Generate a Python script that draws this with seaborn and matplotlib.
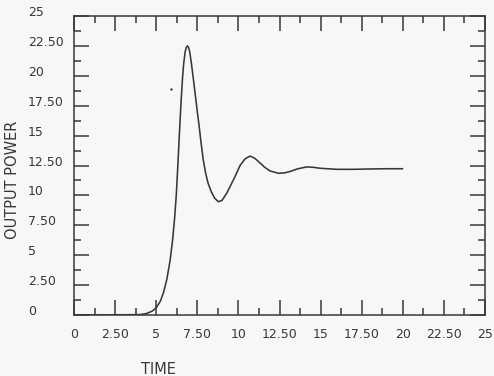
import numpy as np
import pandas as pd
import matplotlib
matplotlib.use("Agg")
import matplotlib.pyplot as plt
import seaborn as sns

# ---- data ----
time = [0.0, 4.00, 4.40, 4.75, 5.00, 5.25, 5.45, 5.65, 5.85, 6.00, 6.12, 6.22, 6.32,
        6.42, 6.52, 6.60, 6.67, 6.76, 6.83, 6.90, 6.97, 7.04, 7.14, 7.30, 7.40, 7.50,
        7.62, 7.72, 7.86, 8.00, 8.15, 8.35, 8.55, 8.78, 9.00, 9.29, 9.55, 9.79, 10.10,
        10.40, 10.71, 11.00, 11.31, 11.60, 11.92, 12.43, 12.80, 13.14, 13.60, 14.15,
        14.55, 14.96, 15.98, 16.99, 18.00, 19.02, 19.99]
power = [0.0, 0.03, 0.12, 0.32, 0.60, 1.15, 1.90, 3.00, 4.60, 6.30, 8.10, 10.00, 12.60,
         15.40, 18.00, 19.80, 21.00, 22.00, 22.38, 22.50, 22.38, 22.00, 21.05, 19.30, 18.15,
         17.00, 15.70, 14.50, 13.00, 11.90, 11.05, 10.30, 9.78, 9.47, 9.58, 10.18, 10.90,
         11.56, 12.50, 13.05, 13.29, 13.10, 12.72, 12.35, 12.05, 11.85, 11.88, 12.00, 12.22,
         12.38, 12.35, 12.27, 12.18, 12.18, 12.21, 12.23, 12.23]
stray_time = [5.90]
stray_power = [18.87]

major_ticks = [0, 2.5, 5, 7.5, 10, 12.5, 15, 17.5, 20, 22.5, 25]
tick_labels = ["0", "2.50", "5", "7.50", "10", "12.50", "15", "17.50", "20", "22.50", "25"]
minor_ticks = [1.25, 3.75, 6.25, 8.75, 11.25, 13.75, 16.25, 18.75, 21.25, 23.75]

x_label = "TIME"
y_label = "OUTPUT POWER"

# ---- style ----
bg = "#f7f7f7"
ink = "#383838"
sns.set_style("white")
plt.rcParams["font.family"] = ["DejaVu Sans"]

fig = plt.figure(figsize=(4.94, 3.76), dpi=100, facecolor=bg)
ax = fig.add_axes([74/494, 1-315/376, 411/494, 299/376])
ax.set_facecolor(bg)

df = pd.DataFrame({"time": time, "power": power})
sns.lineplot(data=df, x="time", y="power", ax=ax, color=ink, linewidth=1.15, sort=False)
sns.scatterplot(x=stray_time, y=stray_power, ax=ax, color=ink, s=3, linewidth=0)

ax.set_xlim(0, 25)
ax.set_ylim(0, 25)
ax.set_xticks(major_ticks)
ax.set_xticklabels(tick_labels)
ax.set_yticks(major_ticks)
ax.set_yticklabels(tick_labels)
ax.set_xticks(minor_ticks, minor=True)
ax.set_yticks(minor_ticks, minor=True)

for s in ax.spines.values():
    s.set_visible(True)
    s.set_color(ink)
    s.set_linewidth(1.1)

ax.tick_params(which="both", direction="in", top=True, right=True,
               bottom=True, left=True, color=ink, width=1.1,
               labeltop=False, labelright=False)
ax.tick_params(which="major", length=10.5)
ax.tick_params(which="minor", length=5)
ax.tick_params(axis="x", which="major", pad=9.5, labelsize=9, labelcolor=ink)
ax.tick_params(axis="y", which="major", pad=33, labelsize=9, labelcolor=ink)
for lab in ax.get_yticklabels():
    lab.set_horizontalalignment("left")
    lab.set_verticalalignment("baseline")

ax.set_xlabel(x_label, fontsize=10.5, color=ink, va="top", ha="center")
ax.xaxis.set_label_coords((158.5-74)/411, (315-362)/299)
ax.set_ylabel(y_label, fontsize=10.5, color=ink, va="center", ha="center")
ax.yaxis.set_label_coords((13-74)/411, (315-180)/299)

fig.savefig("out.png", dpi=100, facecolor=bg)
